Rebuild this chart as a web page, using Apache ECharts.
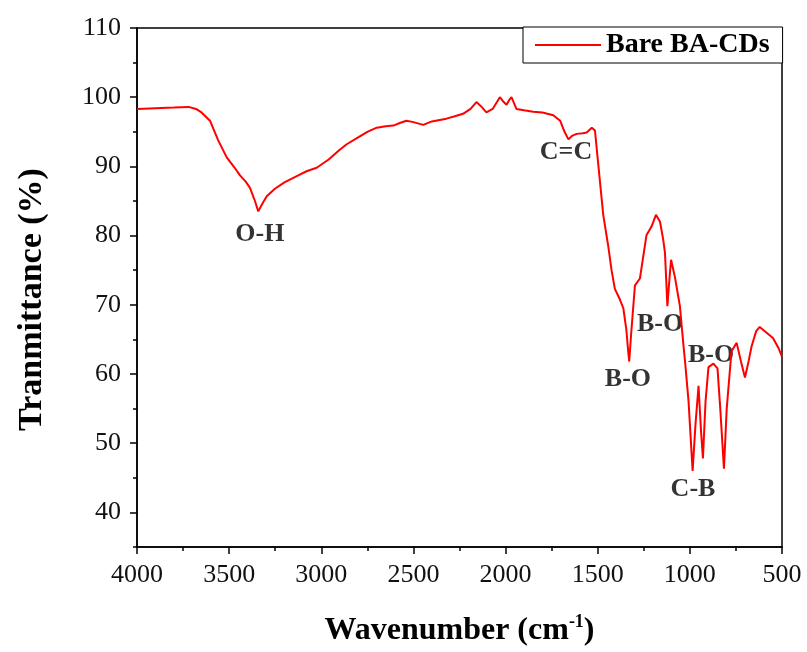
<!DOCTYPE html>
<html>
<head>
<meta charset="utf-8">
<script src="https://cdn.jsdelivr.net/npm/echarts@6/dist/echarts.min.js"></script>
<style>html,body{margin:0;padding:0;background:#fff}#c{width:807px;height:652px}</style>
</head>
<body>
<div id="c"></div>
<script>
const seriesName = 'Bare BA-CDs';
const wavenumber = [4000, 3900, 3800, 3720, 3680, 3650, 3604, 3560, 3513, 3470, 3441, 3410, 3387, 3360, 3342, 3320, 3296, 3250, 3200, 3133, 3080, 3025, 2960, 2900, 2862, 2800, 2750, 2699, 2650, 2609, 2570, 2538, 2500, 2447, 2400, 2321, 2280, 2231, 2190, 2158, 2130, 2104, 2070, 2031, 2010, 1995, 1980, 1968, 1941, 1900, 1850, 1800, 1741, 1704, 1680, 1659, 1640, 1614, 1580, 1560, 1532, 1515, 1497, 1470, 1443, 1425, 1407, 1380, 1361, 1345, 1334, 1329, 1318, 1298, 1271, 1250, 1235, 1208, 1184, 1162, 1145, 1135, 1122, 1110, 1102, 1081, 1054, 1036, 1025, 1007, 985, 970, 953, 940, 929, 915, 899, 872, 850, 835, 815, 800, 774, 746, 720, 701, 680, 665, 640, 621, 612, 585, 549, 520, 500];
const transmittance = [98.3, 98.4, 98.5, 98.6, 98.3, 97.8, 96.6, 93.8, 91.3, 89.8, 88.7, 87.8, 86.9, 85.0, 83.5, 84.6, 85.7, 86.8, 87.7, 88.6, 89.3, 89.8, 91.0, 92.4, 93.2, 94.2, 95.0, 95.6, 95.8, 95.9, 96.3, 96.6, 96.4, 96.0, 96.5, 96.9, 97.2, 97.6, 98.3, 99.3, 98.6, 97.8, 98.3, 100.0, 99.3, 98.9, 99.6, 100.0, 98.3, 98.1, 97.9, 97.8, 97.4, 96.6, 95.0, 93.9, 94.4, 94.7, 94.8, 94.9, 95.6, 95.2, 90.3, 83.0, 78.5, 75.0, 72.3, 70.8, 69.5, 66.5, 63.1, 61.8, 66.0, 72.8, 73.8, 77.5, 80.1, 81.3, 83.0, 82.0, 79.5, 77.5, 69.8, 74.0, 76.5, 74.0, 69.8, 64.5, 61.5, 56.0, 46.0, 52.5, 58.3, 52.0, 47.8, 56.0, 61.0, 61.5, 60.8, 55.0, 46.3, 55.0, 63.3, 64.5, 61.5, 59.5, 62.0, 64.0, 66.2, 66.8, 66.9, 66.0, 65.2, 63.8, 62.5];
const xTicks = [500, 1000, 1500, 2000, 2500, 3000, 3500, 4000];
const yLabelValues = [40, 50, 60, 70, 80, 90, 100, 110];
const yMinorValues = [35, 45, 55, 65, 75, 85, 95, 105];
const annotText = ['O-H', 'C=C', 'B-O', 'B-O', 'B-O', 'C-B'];
const annotWn = [3333, 1672, 1336, 1162, 885, 983];
const annotT = [80.2, 92.1, 59.2, 67.2, 62.7, 43.4];

const FONT = '"Liberation Serif", "Times New Roman", serif';
const chart = echarts.init(document.getElementById('c'), null, {renderer: 'canvas'});
const lineData = wavenumber.map((w, i) => [w, transmittance[i]]);
const annotData = annotText.map((t, i) => ({value: [annotWn[i], annotT[i]], name: t}));

chart.setOption({
  animation: false,
  backgroundColor: '#fff',
  grid: {left: 137, right: 25, top: 28, bottom: 103, show: true, borderColor: '#000', borderWidth: 1.5, backgroundColor: 'transparent'},
  legend: {
    data: [{name: seriesName, icon: 'rect'}],
    left: 523, top: 27,
    itemWidth: 66, itemHeight: 2,
    padding: [4, 13, 4, 12],
    borderColor: '#000', borderWidth: 1,
    backgroundColor: '#fff',
    textStyle: {fontFamily: FONT, fontWeight: 'bold', fontSize: 28, color: '#000'}
  },
  xAxis: {
    type: 'value', min: 500, max: 4000, interval: 500, inverse: true,
    name: '{a|Wavenumber (cm}{s|-1}{a|)}',
    nameLocation: 'middle', nameGap: 66,
    nameTextStyle: {
      rich: {
        a: {fontFamily: FONT, fontWeight: 'bold', fontSize: 32, color: '#000', lineHeight: 36},
        s: {fontFamily: FONT, fontWeight: 'bold', fontSize: 18, color: '#000', verticalAlign: 'top', lineHeight: 36, padding: [0, 0, 14, 0]}
      }
    },
    axisLine: {show: true, lineStyle: {color: '#000', width: 1.5}},
    axisTick: {show: true, inside: false, length: 7, lineStyle: {color: '#000', width: 1.5}},
    minorTick: {show: true, splitNumber: 2, length: 4, lineStyle: {color: '#000', width: 1.5}},
    axisLabel: {fontFamily: FONT, fontSize: 26, color: '#111', margin: 15, formatter: v => String(v)},
    splitLine: {show: false}
  },
  yAxis: [{
    type: 'value', min: 35, max: 110,
    name: 'Tranmittance (%)',
    nameLocation: 'middle', nameGap: 88,
    nameTextStyle: {fontFamily: FONT, fontWeight: 'bold', fontSize: 34, color: '#000', padding: [0, 24, 0, 0]},
    axisLine: {show: true, lineStyle: {color: '#000', width: 1.5}},
    axisTick: {show: true, inside: false, length: 7, customValues: yLabelValues, lineStyle: {color: '#000', width: 1.5}},
    axisLabel: {fontFamily: FONT, fontSize: 26, color: '#111', margin: 16, customValues: yLabelValues, formatter: v => String(v)},
    splitLine: {show: false}
  }, {
    type: 'value', min: 35, max: 110, position: 'left',
    axisLine: {show: false},
    axisTick: {show: true, inside: false, length: 4, customValues: yMinorValues, lineStyle: {color: '#000', width: 1.5}},
    axisLabel: {show: false},
    splitLine: {show: false}
  }],
  series: [{
    name: seriesName, type: 'line', data: lineData, showSymbol: false, symbol: 'none',
    lineStyle: {color: '#ff0000', width: 2}, itemStyle: {color: '#ff0000'}, yAxisIndex: 0
  }, {
    name: 'annotations', type: 'scatter', data: annotData, symbolSize: 0, yAxisIndex: 0, silent: true,
    label: {show: true, position: 'inside', formatter: p => p.name, fontFamily: FONT, fontWeight: 'bold', fontSize: 26, color: '#000'}
  }]
});
</script>
</body>
</html>
